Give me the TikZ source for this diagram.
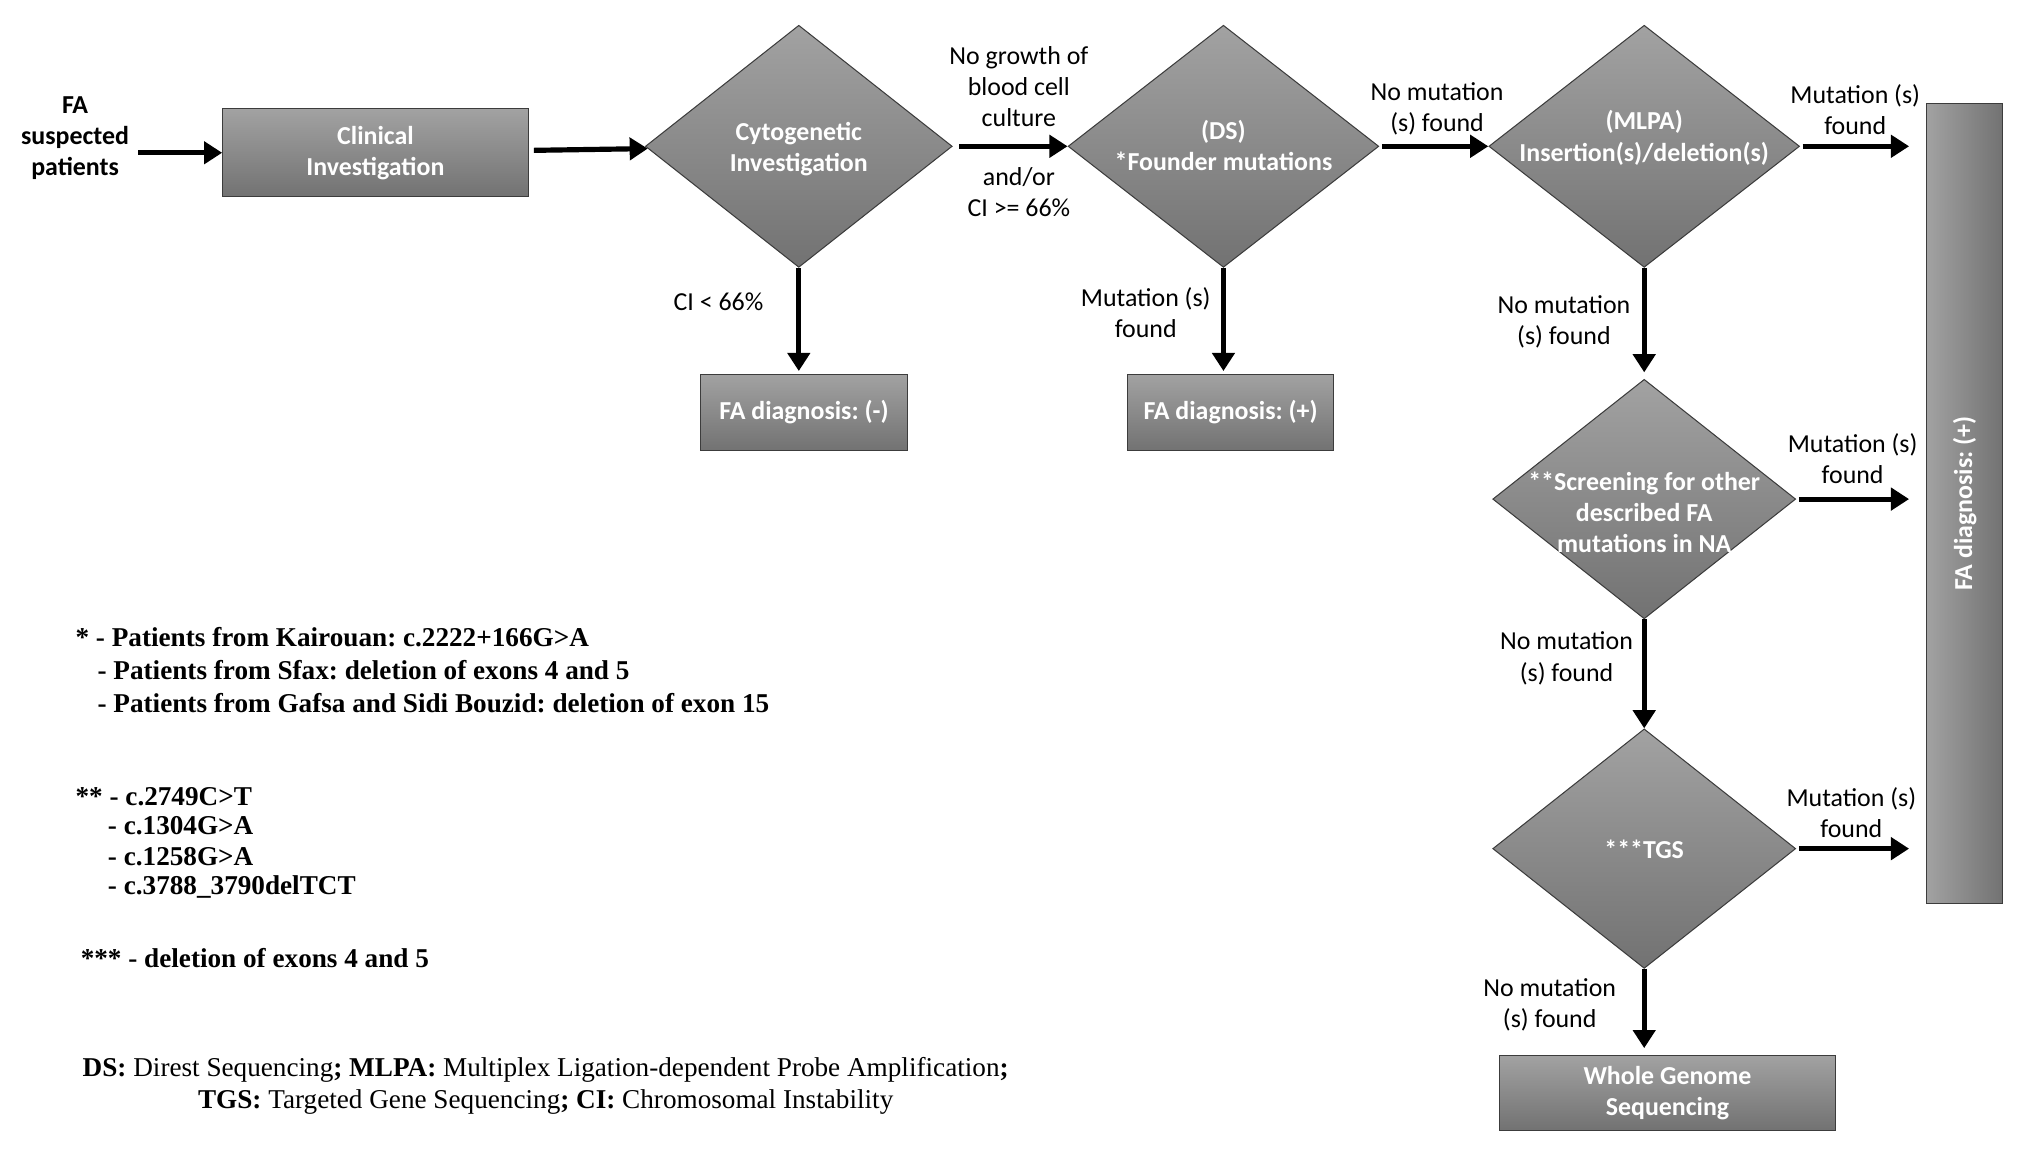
\documentclass[tikz,border=0pt]{standalone}
\usepackage{fontspec}
\setmainfont{Carlito}
\newfontfamily\notefont{Liberation Serif}
\usepackage{tikz}
\usetikzlibrary{shapes.geometric,arrows.meta,positioning}
\definecolor{boxtop}{RGB}{162,162,162}
\definecolor{boxbottom}{RGB}{114,114,114}
\definecolor{boxedge}{RGB}{60,60,60}
\tikzstyle{process}=[draw=boxedge, top color=boxtop, bottom color=boxbottom, text=white, font=\bfseries, align=center, inner sep=0pt]
\tikzstyle{side process}=[draw=boxedge, left color=boxtop, right color=boxbottom, inner sep=0pt]
\tikzstyle{decision}=[diamond, draw=boxedge, top color=boxtop, bottom color=boxbottom, inner sep=0pt]
\tikzstyle{decision text}=[text=white, font=\bfseries, align=center]
\tikzstyle{flow}=[-{Triangle[length=7pt,width=8.5pt]}, line width=2pt]
\tikzstyle{edge label}=[align=center, inner sep=1pt]
\tikzstyle{note}=[anchor=west, inner sep=0pt, font=\notefont\bfseries\fontsize{10.5}{12.5}\selectfont]

\begin{document}
\frenchspacing
\begin{tikzpicture}[x=0.5pt, y=-0.5pt]
    \useasboundingbox (0,0) rectangle (1568,894);

    % Main line
    \node[align=center, font=\bfseries] (fa) at (58,107) {FA\\suspected\\patients};
    \node[process, minimum width=118pt, minimum height=34pt] (clin) at (290,118) {Clinical\\Investigation};
    \node[decision, minimum width=118.5pt, minimum height=93.5pt] (cyto) at (617,113) {};
    \node[decision text] (cytotxt) at (617,115) {Cytogenetic\\Investigation};
    \node[decision, minimum width=120pt, minimum height=93.5pt] (ds) at (945,113) {};
    \node[decision text] (dstxt) at (945,112.5) {(DS)\\*Founder mutations};
    \node[decision, minimum width=120pt, minimum height=93.5pt] (mlpa) at (1270,113) {};
    \node[decision text] (mlpatxt) at (1270,106.5) {(MLPA)\\Insertion(s)/deletion(s)};

    \draw[flow] (fa.east |- clin.west) -- (clin.west);
    \draw[flow, shorten <=2pt] (clin) -- (cyto);
    \draw[flow, shorten <=2.5pt] (cyto) -- (ds);
    \draw[flow, shorten <=1pt] (ds) -- (mlpa);

    % Outcomes
    \node[process, minimum width=80pt, minimum height=29.5pt] (faneg) at (621,318.5) {FA diagnosis: (-)};
    \node[process, minimum width=79.5pt, minimum height=29.5pt] (fapos) at (950.5,318.5) {FA diagnosis: (+)};
    \node[side process, minimum width=29.5pt, minimum height=309pt] (fafinal) at (1517.5,389) {};
    \node[decision text, rotate=90] (fafinaltxt) at (fafinal.center) {FA diagnosis: (+)};

    \draw[flow, shorten >=1pt] (cyto.south) -- (cyto.south |- faneg.north);
    \draw[flow, shorten >=1pt] (ds.south) -- (ds.south |- fapos.north);
    \draw[flow, shorten <=1pt, shorten >=6.5pt] (mlpa.east) -- (mlpa.east -| fafinal.west);

    % Right column
    \node[decision, minimum width=117pt, minimum height=92.5pt] (scr) at (1270,385.5) {};
    \node[decision text] (scrtxt) at (1270,395.5) {**Screening for other\\described FA\\mutations in NA};
    \node[decision, minimum width=117pt, minimum height=92.5pt] (tgs) at (1270,655.5) {};
    \node[decision text] (tgstxt) at (1270,656) {***TGS};
    \node[process, minimum width=130pt, minimum height=29pt] (wgs) at (1288,844) {Whole Genome\\Sequencing};

    \draw[flow, shorten >=2.5pt] (mlpa) -- (scr);
    \draw[flow] (scr) -- (tgs);
    \draw[flow, shorten >=2.5pt] (tgs.south) -- (tgs.south |- wgs.north);
    \draw[flow, shorten <=1pt, shorten >=6.5pt] (scr.east) -- (scr.east -| fafinal.west);
    \draw[flow, shorten <=1pt, shorten >=6.5pt] (tgs.east) -- (tgs.east -| fafinal.west);

    % Labels
    \node[edge label] (lgrowth) at (787,67) {No growth of\\blood cell\\culture};
    \node[edge label] (landor) at (787,148.5) {and/or\\CI >= 66\%};
    \node[edge label] (lcineg) at (555,233) {CI < 66\%};
    \node[edge label] (lds) at (885,241.5) {Mutation (s)\\found};
    \node[edge label] (ldsno) at (1110,84) {No mutation\\(s) found};
    \node[edge label] (lmlpa) at (1433,84.5) {Mutation (s)\\found};
    \node[edge label] (lmlpano) at (1208,248.5) {No mutation\\(s) found};
    \node[edge label] (lscr) at (1431,354.5) {Mutation (s)\\found};
    \node[edge label] (lscrno) at (1210,508.5) {No mutation\\(s) found};
    \node[edge label] (ltgs) at (1430,628) {Mutation (s)\\found};
    \node[edge label] (ltgsno) at (1197,776.5) {No mutation\\(s) found};

    % Notes
    \node[note] (star1) at (58,492) {* - Patients from Kairouan: c.2222+166G>A};
    \node[note] (star2) at (75,517.5) {- Patients from Sfax: deletion of exons 4 and 5};
    \node[note] (star3) at (75,543) {- Patients from Gafsa and Sidi Bouzid: deletion of exon 15};
    \node[note] (dstar1) at (58,615) {** - c.2749C>T};
    \node[note] (dstar2) at (83,638) {- c.1304G>A};
    \node[note] (dstar3) at (83,661.5) {- c.1258G>A};
    \node[note] (dstar4) at (83,685) {- c.3788\_3790delTCT};
    \node[note] (tstar) at (62,740) {*** - deletion of exons 4 and 5};

    % Abbreviations
    \node[align=center, inner sep=0pt, font=\notefont\fontsize{10.5}{12.5}\selectfont] (abbr) at (421.5,838.5)
        {\textbf{DS:} Direst Sequencing\textbf{; MLPA:} Multiplex Ligation-dependent Probe Amplification\textbf{;}\\
         \textbf{TGS:} Targeted Gene Sequencing\textbf{; CI:} Chromosomal Instability};
\end{tikzpicture}
\end{document}
